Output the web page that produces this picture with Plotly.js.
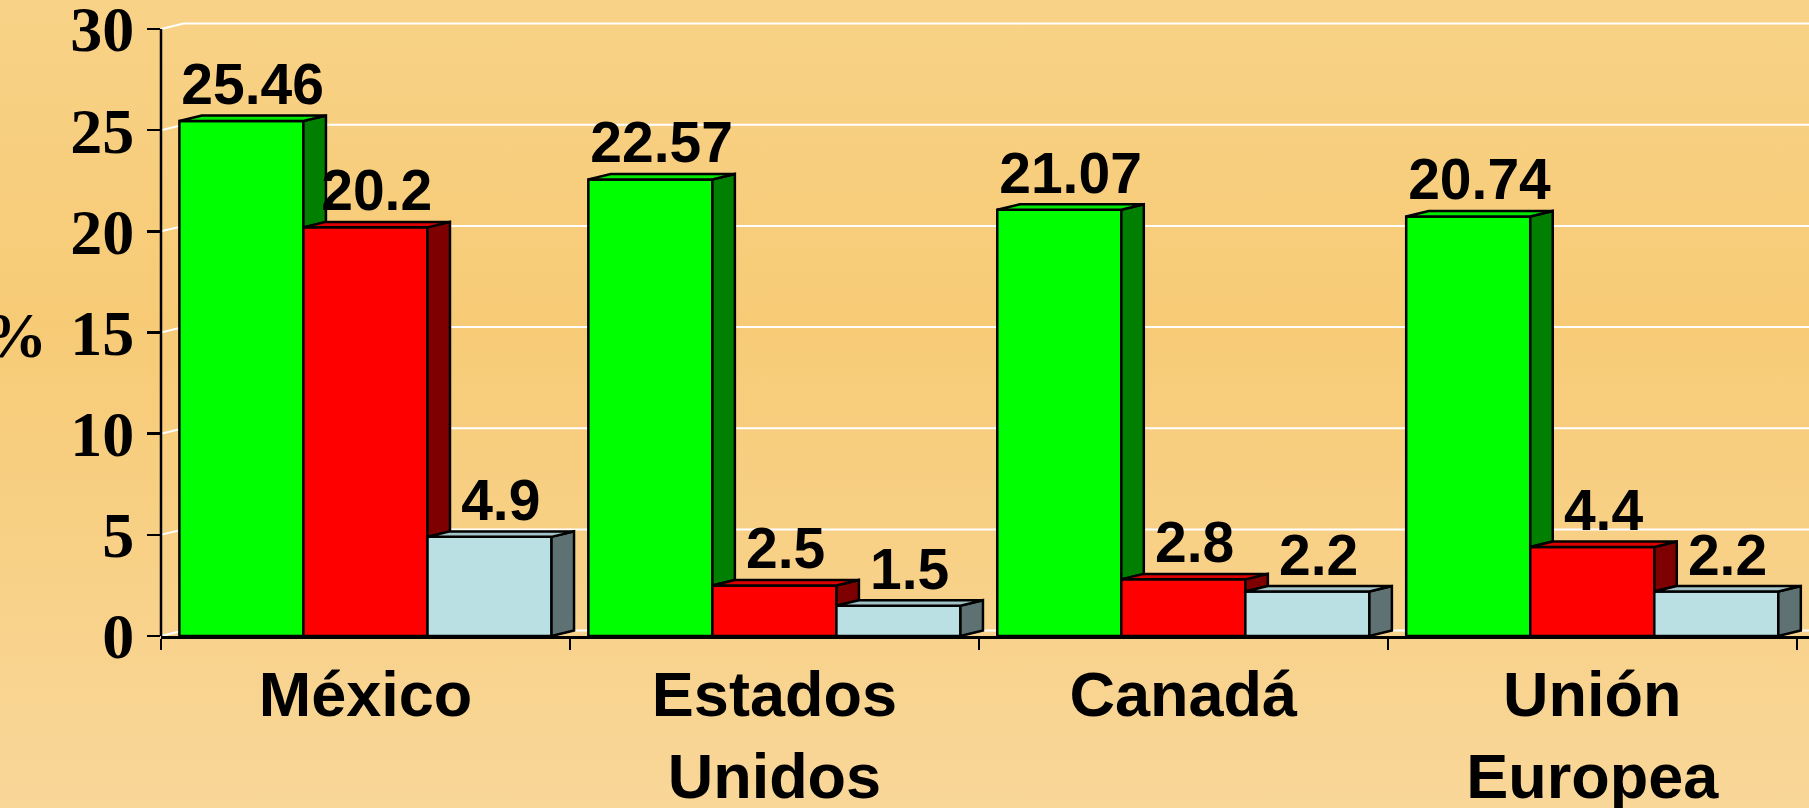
<!DOCTYPE html>
<html>
<head>
<meta charset="utf-8">
<script src="https://cdn.plot.ly/plotly-3.0.1.min.js"></script>
<style>
  html, body { margin: 0; padding: 0; }
  body {
    width: 1809px; height: 808px; overflow: hidden;
    background: linear-gradient(to bottom, #F8D287 0%, #F7CB76 40%, #F9D799 100%);
  }
  #myDiv { width: 1809px; height: 808px; }
</style>
</head>
<body>
<div id="myDiv"></div>
<script>
var regions = ["México", "Estados<br>Unidos", "Canadá", "Unión<br>Europea"];
var serieA = [25.46, 22.57, 21.07, 20.74];
var serieB = [20.2, 2.5, 2.8, 4.4];
var serieC = [4.9, 1.5, 2.2, 2.2];
var yTicks = [0, 5, 10, 15, 20, 25, 30];

var frontColors = ["#00FF00", "#FF0000", "#BBE0E3"];
var topColors = ["#00E800", "#DD0000", "#A3C3C6"];
var sideColors = ["#007F00", "#7F0000", "#5E7274"];

// fake 3d depth, in axis units
var DX = 0.055, DY = 0.27;
var GAP = 0.09;
var W = (1 - GAP) / 3;
var XMAX = 3.53, YMAX = 30.35;

var series = [serieA, serieB, serieC];
var pos = regions.map(function (r, i) { return i; });
var labelFont = { family: "Liberation Sans, Arial", size: 57, color: "black", weight: "bold" };
var serifFont = { family: "Liberation Serif, Times New Roman", size: 64, color: "black", weight: "bold" };

var data = [];

// front faces
series.forEach(function (vals, s) {
  data.push({
    type: "bar",
    x: pos,
    y: vals,
    name: "serie " + (s + 1),
    marker: { color: frontColors[s], line: { color: "black", width: 2.5 } },
    hoverinfo: "skip"
  });
});

// side and top faces
series.forEach(function (vals, s) {
  var next = series[s + 1];
  var sx = [], sy = [], tx = [], ty = [];
  vals.forEach(function (v, i) {
    var xl = pos[i] + (s - 1.5) * W;
    var xr = xl + W;
    var lo = next ? Math.min(next[i], v) : 0;
    sx.push(xr, xr + DX, xr + DX, xr, xr, null);
    sy.push(lo, lo + DY, v + DY, v, lo, null);
    tx.push(xl, xl + DX, xr + DX, xr, xl, null);
    ty.push(v, v + DY, v + DY, v, v, null);
  });
  data.push({
    type: "scatter", mode: "lines", x: sx, y: sy, fill: "toself",
    fillcolor: sideColors[s], line: { color: "black", width: 2.5 },
    hoverinfo: "skip", showlegend: false
  });
  data.push({
    type: "scatter", mode: "lines", x: tx, y: ty, fill: "toself",
    fillcolor: topColors[s], line: { color: "black", width: 2.5 },
    hoverinfo: "skip", showlegend: false
  });
});

// value labels, centred over the top face
series.forEach(function (vals, s) {
  data.push({
    type: "scatter",
    mode: "text",
    x: pos.map(function (p) { return p + (s - 1) * W + DX / 2; }),
    y: vals.map(function (v) { return v + DY / 2; }),
    text: vals.map(String),
    textposition: "top center",
    textfont: labelFont,
    cliponaxis: false,
    hoverinfo: "skip",
    showlegend: false
  });
});

// back wall gridlines
var shapes = yTicks.map(function (t) {
  return {
    type: "path", xref: "x", yref: "y", layer: "below",
    path: "M -0.5," + t + " L " + (-0.5 + DX) + "," + (t + DY) + " L " + XMAX + "," + (t + DY),
    line: { color: "white", width: 2 }
  };
});
shapes.push({
  type: "line", xref: "paper", yref: "paper",
  x0: 0, x1: 0, y0: 0, y1: 30 / YMAX,
  line: { color: "black", width: 2.5 }
});

var layout = {
  width: 1809,
  height: 808,
  margin: { l: 161, r: 0, t: 22, b: 172 },
  paper_bgcolor: "rgba(0,0,0,0)",
  plot_bgcolor: "rgba(0,0,0,0)",
  barmode: "group",
  bargap: GAP,
  bargroupgap: 0,
  showlegend: false,
  xaxis: {
    range: [-0.5, XMAX],
    tickvals: pos,
    ticktext: regions,
    ticks: "",
    showgrid: false,
    zeroline: false,
    showline: true,
    linecolor: "black",
    linewidth: 3,
    tickfont: { family: "Liberation Sans, Arial", size: 63, color: "black", weight: "bold" },
    ticklabelstandoff: 1,
    ticklabeloverflow: "allow",
    minor: {
      tickvals: [-0.5, 0.5, 1.5, 2.5, 3.5],
      ticks: "outside", ticklen: 11, tickwidth: 2, tickcolor: "black", showgrid: false
    }
  },
  yaxis: {
    range: [0, YMAX],
    tickvals: yTicks,
    ticks: "outside",
    ticklen: 13,
    tickwidth: 2.5,
    tickcolor: "black",
    showgrid: false,
    zeroline: false,
    showline: false,
    ticklabeloverflow: "allow",
    tickfont: serifFont
  },
  shapes: shapes,
  annotations: [{
    text: "%", xref: "paper", yref: "paper", x: 0, y: 0.489,
    xanchor: "right", xshift: -112, showarrow: false,
    font: serifFont
  }]
};

const config = { displayModeBar: false, staticPlot: true };

Plotly.newPlot("myDiv", data, layout, config);
</script>
</body>
</html>
